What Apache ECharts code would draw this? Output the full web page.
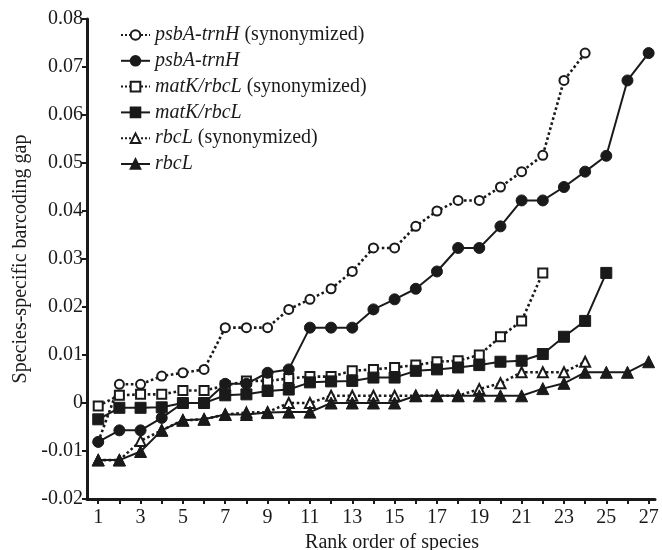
<!DOCTYPE html>
<html><head><meta charset="utf-8">
<script src="https://cdn.jsdelivr.net/npm/echarts@6/dist/echarts.min.js"></script>
<style>html,body{margin:0;padding:0;background:#fff}#c{width:662px;height:550px}</style>
</head><body><div id="c"></div>
<script>
const seriesNames = ['psbA-trnH (synonymized)','psbA-trnH','matK/rbcL (synonymized)','matK/rbcL','rbcL (synonymized)','rbcL'];
const psbaSyn = [-0.0081,0.0039,0.0039,0.0056,0.0063,0.0070,0.0157,0.0157,0.0157,0.0195,0.0216,0.0238,0.0274,0.0323,0.0323,0.0368,0.0400,0.0422,0.0422,0.0450,0.0482,0.0516,0.0672,0.0729];
const psba = [-0.0081,-0.0057,-0.0057,-0.0031,0,0,0.0040,0.0040,0.0063,0.0070,0.0157,0.0157,0.0157,0.0195,0.0216,0.0238,0.0274,0.0323,0.0323,0.0368,0.0422,0.0422,0.0450,0.0482,0.0515,0.0672,0.0729];
const matkSyn = [-0.0006,0.0016,0.0018,0.0018,0.0026,0.0026,0.0036,0.0046,0.0046,0.0051,0.0055,0.0055,0.0067,0.0070,0.0074,0.0079,0.0086,0.0088,0.0100,0.0138,0.0171,0.0271];
const matk = [-0.0034,-0.0010,-0.0010,-0.0009,0,0,0.0016,0.0018,0.0025,0.0028,0.0043,0.0045,0.0046,0.0053,0.0053,0.0067,0.0070,0.0074,0.0079,0.0086,0.0088,0.0102,0.0138,0.0171,0.0271];
const rbclSyn = [-0.0119,-0.0119,-0.0079,-0.0057,-0.0036,-0.0034,-0.0024,-0.0020,-0.0019,0,0,0.0015,0.0015,0.0015,0.0015,0.0015,0.0015,0.0015,0.0029,0.0041,0.0064,0.0064,0.0064,0.0086];
const rbcl = [-0.0119,-0.0119,-0.0101,-0.0057,-0.0036,-0.0034,-0.0024,-0.0024,-0.0020,-0.0019,-0.0019,0,0,0,0,0.0015,0.0015,0.0015,0.0015,0.0015,0.0015,0.0030,0.0041,0.0064,0.0064,0.0064,0.0086];
const xTickValues = [1,2,3,4,5,6,7,8,9,10,11,12,13,14,15,16,17,18,19,20,21,22,23,24,25,26,27];
const xLabelValues = [1,3,5,7,9,11,13,15,17,19,21,23,25,27];

const FONT = 'Liberation Serif';
const black = '#1a1a1a';
function pts(arr){ return arr.map((v,i)=>[i+1,v]); }
function mk(name, data, symbol, dotted, size){
  return {
    name, type:'line', data: pts(data), symbol, symbolSize: size,
    lineStyle:{color:black, width: dotted?2.6:2, type: dotted?'dotted':'solid'},
    itemStyle:{color:black, borderColor:black, borderWidth: dotted?2.2:1},
    z: dotted?2:3, animation:false
  };
}
const chart = echarts.init(document.getElementById('c'));
chart.setOption({
  animation:false,
  backgroundColor:'#fff',
  grid:{left:87,right:7,top:19,bottom:51,outerBoundsMode:'none',containLabel:false},
  legend:{
    left:120, top:25, padding:0, orient:'vertical', itemGap:5.8, itemWidth:29, itemHeight:12,
    data: seriesNames,
    textStyle:{fontFamily:FONT, fontSize:20, color:black,
      rich:{i:{fontFamily:FONT,fontSize:20,fontStyle:'italic',color:black}}},
    formatter: function(n){
      const m = n.match(/^(\S+)(.*)$/);
      return '{i|'+m[1]+'}'+m[2];
    }
  },
  xAxis:{
    type:'value', min:0.47, max:27.3,
    name:'Rank order of species', nameLocation:'middle', nameGap:33,
    nameTextStyle:{fontFamily:FONT,fontSize:20,color:black,padding:[0,0,0,42]},
    axisLine:{onZero:false,lineStyle:{color:black,width:3}},
    axisTick:{show:true,length:5,lineStyle:{color:black,width:2},customValues:xTickValues},
    axisLabel:{fontFamily:FONT,fontSize:20,color:black,margin:9,customValues:xLabelValues},
    splitLine:{show:false}
  },
  yAxis:{
    type:'value', min:-0.02, max:0.08, interval:0.01,
    name:'Species-specific barcoding gap', nameLocation:'middle', nameGap:52,
    nameTextStyle:{fontFamily:FONT,fontSize:20,color:black},
    axisLine:{show:true,onZero:false,lineStyle:{color:black,width:3}},
    axisTick:{show:true,length:5,lineStyle:{color:black,width:2}},
    axisLabel:{fontFamily:FONT,fontSize:20,color:black,margin:4,
      formatter:v=>Math.abs(v)<1e-9?'0':v.toFixed(2)},
    splitLine:{show:false}
  },
  series:[
    mk(seriesNames[0], psbaSyn, 'emptyCircle', true, 9),
    mk(seriesNames[1], psba, 'circle', false, 11),
    mk(seriesNames[2], matkSyn, 'emptyRect', true, 9),
    mk(seriesNames[3], matk, 'rect', false, 11),
    mk(seriesNames[4], rbclSyn, 'emptyTriangle', true, 10),
    mk(seriesNames[5], rbcl, 'triangle', false, 12)
  ]
});
</script></body></html>
